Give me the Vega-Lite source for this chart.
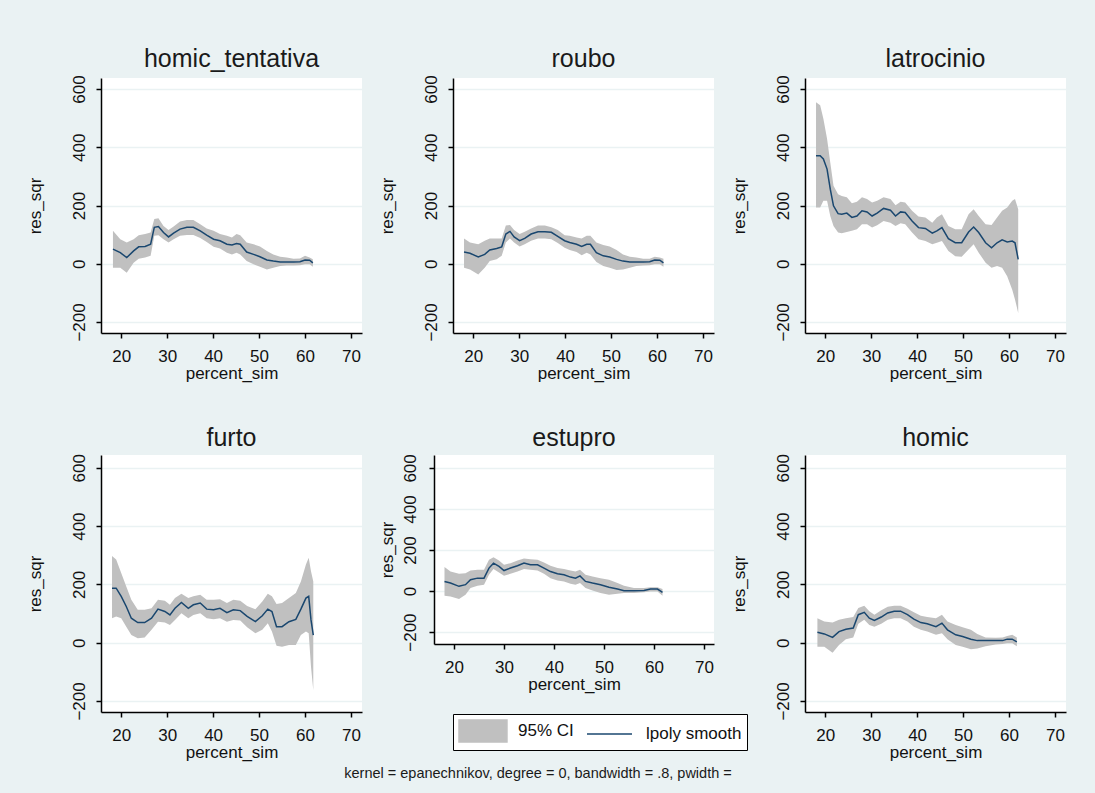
{
 "$schema": "https://vega.github.io/schema/vega-lite/v6.json",
 "background": "#EAF2F3",
 "padding": {"left": 26, "top": 46, "right": 30, "bottom": 15},
 "title": {"text": "kernel = epanechnikov, degree = 0, bandwidth = .8, pwidth = ", "orient": "bottom", "anchor": "middle", "frame": "bounds", "fontSize": 14.5, "offset": 7, "dx": -8},
 "config": {
  "font": "Liberation Sans",
  "view": {"stroke": null, "fill": "white"},
  "title": {"fontSize": 25, "fontWeight": "normal", "color": "#1a1a1a", "offset": 3, "frame": "group", "anchor": "middle"},
  "axis": {"domainColor": "black", "domainWidth": 1.5, "tickColor": "black", "tickWidth": 1.5, "tickSize": 5, "labelFontSize": 17, "titleFontSize": 17, "titleFontWeight": "normal", "labelColor": "#111111", "titleColor": "#111111", "labelOverlap": false},
  "axisX": {"grid": false, "labelPadding": 10, "titlePadding": 1, "labelFlush": false},
  "axisY": {"grid": true, "gridColor": "#EAF2F3", "gridWidth": 1.5, "labelAngle": -90, "labelAlign": "center", "labelBaseline": "bottom", "labelPadding": 8, "titlePadding": 26},
  "legend": {"strokeColor": "black", "fillColor": "white", "padding": 5, "cornerRadius": 0, "labelFontSize": 17, "labelColor": "#111111", "labelOffset": 36, "columnPadding": 10, "symbolSize": 484, "labelLimit": 300, "symbolOpacity": 1, "symbolStrokeWidth": 1.5}
 },
 "datasets": {
  "homic_tentativa": [
   {"x":18.2,"fit":50,"lo":-14,"hi":113},{"x":19.8,"fit":38,"lo":-14,"hi":84},{"x":21.2,"fit":21,"lo":-31,"hi":73},{"x":22.7,"fit":44,"lo":3,"hi":84},{"x":23.8,"fit":58,"lo":17,"hi":98},{"x":25.2,"fit":59,"lo":21,"hi":102},{"x":26.4,"fit":67,"lo":27,"hi":107},{"x":27.2,"fit":125,"lo":96,"hi":154},{"x":28.1,"fit":128,"lo":98,"hi":156},{"x":29.2,"fit":107,"lo":84,"hi":130},{"x":30.3,"fit":92,"lo":73,"hi":116},{"x":31.4,"fit":105,"lo":84,"hi":128},{"x":32.8,"fit":119,"lo":96,"hi":145},{"x":34.3,"fit":125,"lo":99,"hi":150},{"x":35.7,"fit":125,"lo":99,"hi":150},{"x":37.2,"fit":113,"lo":88,"hi":136},{"x":38.6,"fit":98,"lo":75,"hi":121},{"x":40.1,"fit":84,"lo":58,"hi":113},{"x":41.5,"fit":79,"lo":52,"hi":102},{"x":43.0,"fit":67,"lo":38,"hi":96},{"x":44.1,"fit":64,"lo":32,"hi":90},{"x":45.1,"fit":69,"lo":38,"hi":102},{"x":45.9,"fit":67,"lo":32,"hi":98},{"x":47.3,"fit":40,"lo":9,"hi":73},{"x":48.8,"fit":32,"lo":-2,"hi":67},{"x":50.2,"fit":24,"lo":-10,"hi":59},{"x":51.7,"fit":13,"lo":-20,"hi":44},{"x":53.1,"fit":9,"lo":-14,"hi":32},{"x":54.6,"fit":6,"lo":-8,"hi":24},{"x":56.0,"fit":6,"lo":-6,"hi":21},{"x":57.5,"fit":6,"lo":-6,"hi":17},{"x":58.9,"fit":7,"lo":-5,"hi":18},{"x":60.0,"fit":13,"lo":-2,"hi":27},{"x":61.0,"fit":12,"lo":-2,"hi":21},{"x":61.7,"fit":3,"lo":-10,"hi":15}
  ],
  "roubo": [
   {"x":18.0,"fit":40,"lo":-14,"hi":87},{"x":19.3,"fit":36,"lo":-20,"hi":73},{"x":21.1,"fit":23,"lo":-37,"hi":67},{"x":22.5,"fit":32,"lo":-14,"hi":79},{"x":23.6,"fit":47,"lo":9,"hi":87},{"x":25.1,"fit":52,"lo":15,"hi":87},{"x":26.2,"fit":58,"lo":27,"hi":87},{"x":27.1,"fit":102,"lo":73,"hi":131},{"x":28.0,"fit":111,"lo":87,"hi":133},{"x":28.9,"fit":92,"lo":73,"hi":116},{"x":30.1,"fit":79,"lo":59,"hi":102},{"x":31.2,"fit":87,"lo":67,"hi":110},{"x":32.6,"fit":102,"lo":79,"hi":121},{"x":34.1,"fit":110,"lo":87,"hi":131},{"x":35.6,"fit":110,"lo":87,"hi":131},{"x":37.0,"fit":108,"lo":84,"hi":125},{"x":38.4,"fit":94,"lo":71,"hi":116},{"x":39.9,"fit":79,"lo":55,"hi":98},{"x":41.0,"fit":73,"lo":47,"hi":96},{"x":42.5,"fit":67,"lo":40,"hi":90},{"x":43.6,"fit":59,"lo":29,"hi":87},{"x":44.7,"fit":67,"lo":38,"hi":96},{"x":45.5,"fit":67,"lo":32,"hi":96},{"x":46.8,"fit":38,"lo":6,"hi":73},{"x":48.3,"fit":27,"lo":-8,"hi":64},{"x":49.7,"fit":23,"lo":-14,"hi":59},{"x":51.2,"fit":15,"lo":-22,"hi":47},{"x":52.6,"fit":9,"lo":-20,"hi":32},{"x":54.1,"fit":6,"lo":-14,"hi":24},{"x":55.5,"fit":6,"lo":-8,"hi":21},{"x":57.0,"fit":6,"lo":-6,"hi":17},{"x":58.4,"fit":7,"lo":-5,"hi":17},{"x":59.5,"fit":13,"lo":-2,"hi":24},{"x":60.6,"fit":12,"lo":-2,"hi":21},{"x":61.4,"fit":3,"lo":-10,"hi":17}
  ],
  "latrocinio": [
   {"x":18.0,"fit":371,"lo":193,"hi":555},{"x":18.9,"fit":371,"lo":193,"hi":544},{"x":19.6,"fit":360,"lo":216,"hi":498},{"x":20.4,"fit":325,"lo":216,"hi":429},{"x":21.1,"fit":256,"lo":164,"hi":348},{"x":21.8,"fit":199,"lo":130,"hi":268},{"x":22.8,"fit":172,"lo":107,"hi":239},{"x":23.6,"fit":170,"lo":105,"hi":233},{"x":24.7,"fit":174,"lo":109,"hi":228},{"x":25.8,"fit":159,"lo":113,"hi":208},{"x":26.9,"fit":164,"lo":118,"hi":213},{"x":28.0,"fit":182,"lo":136,"hi":228},{"x":29.1,"fit":178,"lo":136,"hi":222},{"x":30.2,"fit":164,"lo":124,"hi":210},{"x":31.3,"fit":174,"lo":132,"hi":216},{"x":32.7,"fit":190,"lo":147,"hi":228},{"x":34.2,"fit":184,"lo":141,"hi":222},{"x":35.3,"fit":164,"lo":130,"hi":201},{"x":36.4,"fit":178,"lo":139,"hi":213},{"x":37.4,"fit":176,"lo":136,"hi":210},{"x":38.9,"fit":147,"lo":107,"hi":182},{"x":40.3,"fit":124,"lo":84,"hi":162},{"x":41.8,"fit":121,"lo":78,"hi":159},{"x":43.3,"fit":105,"lo":67,"hi":141},{"x":44.3,"fit":113,"lo":72,"hi":159},{"x":45.4,"fit":124,"lo":78,"hi":170},{"x":46.8,"fit":86,"lo":44,"hi":130},{"x":48.3,"fit":72,"lo":26,"hi":118},{"x":49.7,"fit":72,"lo":24,"hi":118},{"x":51.2,"fit":109,"lo":49,"hi":170},{"x":52.3,"fit":126,"lo":67,"hi":187},{"x":53.4,"fit":107,"lo":38,"hi":164},{"x":54.9,"fit":72,"lo":3,"hi":136},{"x":56.2,"fit":55,"lo":-14,"hi":133},{"x":57.4,"fit":72,"lo":-8,"hi":159},{"x":58.5,"fit":82,"lo":-14,"hi":182},{"x":59.6,"fit":75,"lo":-43,"hi":193},{"x":60.7,"fit":78,"lo":-89,"hi":216},{"x":61.3,"fit":72,"lo":-123,"hi":222},{"x":62.0,"fit":15,"lo":-169,"hi":187}
  ],
  "furto": [
   {"x":18.0,"fit":187,"lo":84,"hi":297},{"x":18.9,"fit":187,"lo":90,"hi":285},{"x":20.0,"fit":159,"lo":84,"hi":239},{"x":21.1,"fit":124,"lo":55,"hi":193},{"x":22.2,"fit":84,"lo":26,"hi":147},{"x":23.6,"fit":69,"lo":15,"hi":113},{"x":25.1,"fit":69,"lo":18,"hi":113},{"x":26.6,"fit":84,"lo":44,"hi":118},{"x":28.0,"fit":115,"lo":72,"hi":147},{"x":29.5,"fit":107,"lo":69,"hi":144},{"x":30.6,"fit":95,"lo":61,"hi":130},{"x":31.7,"fit":118,"lo":78,"hi":153},{"x":33.1,"fit":138,"lo":101,"hi":168},{"x":34.6,"fit":118,"lo":84,"hi":153},{"x":35.7,"fit":130,"lo":95,"hi":159},{"x":37.2,"fit":136,"lo":101,"hi":164},{"x":38.6,"fit":115,"lo":84,"hi":147},{"x":40.1,"fit":113,"lo":80,"hi":147},{"x":41.5,"fit":118,"lo":84,"hi":149},{"x":43.0,"fit":103,"lo":72,"hi":136},{"x":44.4,"fit":113,"lo":78,"hi":147},{"x":45.9,"fit":110,"lo":76,"hi":144},{"x":47.4,"fit":90,"lo":53,"hi":126},{"x":49.2,"fit":72,"lo":32,"hi":115},{"x":50.7,"fit":92,"lo":44,"hi":141},{"x":51.9,"fit":115,"lo":67,"hi":168},{"x":52.8,"fit":107,"lo":38,"hi":159},{"x":53.8,"fit":55,"lo":-11,"hi":133},{"x":55.0,"fit":55,"lo":-14,"hi":136},{"x":56.5,"fit":72,"lo":-8,"hi":153},{"x":58.0,"fit":80,"lo":-8,"hi":170},{"x":59.1,"fit":115,"lo":26,"hi":210},{"x":60.2,"fit":153,"lo":38,"hi":268},{"x":60.8,"fit":159,"lo":32,"hi":291},{"x":61.3,"fit":78,"lo":-83,"hi":245},{"x":61.8,"fit":26,"lo":-163,"hi":210}
  ],
  "estupro": [
   {"x":18.1,"fit":47,"lo":-23,"hi":117},{"x":19.3,"fit":39,"lo":-26,"hi":95},{"x":21.0,"fit":23,"lo":-39,"hi":84},{"x":22.3,"fit":31,"lo":-18,"hi":87},{"x":23.3,"fit":55,"lo":15,"hi":100},{"x":24.7,"fit":63,"lo":26,"hi":104},{"x":26.0,"fit":63,"lo":31,"hi":104},{"x":27.0,"fit":112,"lo":79,"hi":152},{"x":27.9,"fit":136,"lo":107,"hi":165},{"x":29.0,"fit":120,"lo":91,"hi":149},{"x":30.0,"fit":100,"lo":74,"hi":128},{"x":31.3,"fit":112,"lo":84,"hi":136},{"x":32.7,"fit":123,"lo":95,"hi":149},{"x":34.0,"fit":136,"lo":107,"hi":159},{"x":35.3,"fit":128,"lo":104,"hi":155},{"x":36.7,"fit":128,"lo":100,"hi":152},{"x":38.0,"fit":112,"lo":84,"hi":139},{"x":39.3,"fit":95,"lo":63,"hi":123},{"x":40.7,"fit":84,"lo":52,"hi":112},{"x":42.0,"fit":79,"lo":47,"hi":107},{"x":43.3,"fit":68,"lo":36,"hi":100},{"x":44.3,"fit":63,"lo":31,"hi":95},{"x":45.2,"fit":74,"lo":39,"hi":104},{"x":46.3,"fit":47,"lo":15,"hi":79},{"x":47.7,"fit":39,"lo":3,"hi":71},{"x":49.3,"fit":31,"lo":-10,"hi":63},{"x":51.0,"fit":19,"lo":-18,"hi":55},{"x":52.7,"fit":10,"lo":-13,"hi":39},{"x":54.0,"fit":2,"lo":-10,"hi":26},{"x":56.0,"fit":2,"lo":-10,"hi":15},{"x":58.0,"fit":3,"lo":-6,"hi":15},{"x":59.3,"fit":10,"lo":-2,"hi":19},{"x":60.7,"fit":10,"lo":-2,"hi":19},{"x":61.7,"fit":-6,"lo":-23,"hi":10}
  ],
  "homic": [
   {"x":18.3,"fit":36,"lo":-14,"hi":84},{"x":19.8,"fit":30,"lo":-14,"hi":73},{"x":21.6,"fit":18,"lo":-35,"hi":69},{"x":23.0,"fit":38,"lo":-8,"hi":79},{"x":24.5,"fit":46,"lo":12,"hi":84},{"x":26.1,"fit":50,"lo":18,"hi":88},{"x":27.2,"fit":96,"lo":65,"hi":119},{"x":28.5,"fit":104,"lo":79,"hi":127},{"x":29.6,"fit":84,"lo":61,"hi":108},{"x":30.7,"fit":76,"lo":55,"hi":96},{"x":32.2,"fit":88,"lo":65,"hi":111},{"x":33.6,"fit":102,"lo":79,"hi":123},{"x":35.0,"fit":108,"lo":84,"hi":127},{"x":36.4,"fit":108,"lo":84,"hi":127},{"x":37.9,"fit":96,"lo":73,"hi":116},{"x":39.3,"fit":81,"lo":55,"hi":104},{"x":40.8,"fit":69,"lo":44,"hi":92},{"x":42.2,"fit":65,"lo":38,"hi":88},{"x":44.1,"fit":55,"lo":27,"hi":84},{"x":45.4,"fit":67,"lo":32,"hi":96},{"x":46.6,"fit":44,"lo":12,"hi":73},{"x":48.4,"fit":27,"lo":-8,"hi":61},{"x":49.9,"fit":21,"lo":-14,"hi":53},{"x":51.7,"fit":12,"lo":-23,"hi":44},{"x":53.1,"fit":7,"lo":-20,"hi":30},{"x":54.9,"fit":7,"lo":-12,"hi":18},{"x":57.1,"fit":7,"lo":-6,"hi":17},{"x":58.6,"fit":7,"lo":-5,"hi":18},{"x":59.6,"fit":12,"lo":-2,"hi":23},{"x":60.7,"fit":12,"lo":-2,"hi":27},{"x":61.7,"fit":3,"lo":-12,"hi":18}
  ]
 },
 "spacing": 44,
 "bounds": "full",
 "resolve": {"scale": {"x": "independent", "y": "independent", "color": "shared"}, "legend": {"color": "shared"}},
 "vconcat": [
  {"spacing": 16, "bounds": "full",
   "resolve": {"scale": {"x": "independent", "y": "independent", "color": "shared"}, "legend": {"color": "shared"}},
   "hconcat": [
  {"width": 261, "height": 255, "title": "homic_tentativa", "data": {"name": "homic_tentativa"},
   "layer": [
    {"mark": {"type": "area", "opacity": 1}, "encoding": {
      "x": {"field": "x", "type": "quantitative", "title": "percent_sim", "scale": {"domain": [15.6, 72.4], "nice": false, "zero": false}, "axis": {"values": [20,30,40,50,60,70]}},
      "y": {"field": "lo", "type": "quantitative", "title": "res_sqr", "scale": {"domain": [-238, 638], "nice": false, "zero": false}, "axis": {"values": [-200,0,200,400,600]}},
      "y2": {"field": "hi"},
      "color": {"datum": "95% CI", "scale": {"domain": ["95% CI", "lpoly smooth"], "range": ["#C0C0C0", "#1A476F"]}, "legend": {"title": null, "orient": "none", "legendX": 352, "legendY": 636, "direction": "horizontal", "symbolType": {"expr": "datum.value === '95% CI' ? 'M-1,-1H3.36V1H-1Z' : 'M-1,0H3.09'"}}}}},
    {"mark": {"type": "line", "strokeWidth": 1.5}, "encoding": {
      "x": {"field": "x", "type": "quantitative", "title": "percent_sim"},
      "y": {"field": "fit", "type": "quantitative", "title": "res_sqr"},
      "color": {"datum": "lpoly smooth"}}}
   ]},
  {"width": 261, "height": 255, "title": "roubo", "data": {"name": "roubo"},
   "layer": [
    {"mark": {"type": "area", "opacity": 1}, "encoding": {
      "x": {"field": "x", "type": "quantitative", "title": "percent_sim", "scale": {"domain": [15.6, 72.4], "nice": false, "zero": false}, "axis": {"values": [20,30,40,50,60,70]}},
      "y": {"field": "lo", "type": "quantitative", "title": "res_sqr", "scale": {"domain": [-238, 638], "nice": false, "zero": false}, "axis": {"values": [-200,0,200,400,600]}},
      "y2": {"field": "hi"},
      "color": {"datum": "95% CI"}}},
    {"mark": {"type": "line", "strokeWidth": 1.5}, "encoding": {
      "x": {"field": "x", "type": "quantitative", "title": "percent_sim"},
      "y": {"field": "fit", "type": "quantitative", "title": "res_sqr"},
      "color": {"datum": "lpoly smooth"}}}
   ]},
  {"width": 261, "height": 255, "title": "latrocinio", "data": {"name": "latrocinio"},
   "layer": [
    {"mark": {"type": "area", "opacity": 1}, "encoding": {
      "x": {"field": "x", "type": "quantitative", "title": "percent_sim", "scale": {"domain": [15.6, 72.4], "nice": false, "zero": false}, "axis": {"values": [20,30,40,50,60,70]}},
      "y": {"field": "lo", "type": "quantitative", "title": "res_sqr", "scale": {"domain": [-238, 638], "nice": false, "zero": false}, "axis": {"values": [-200,0,200,400,600]}},
      "y2": {"field": "hi"},
      "color": {"datum": "95% CI"}}},
    {"mark": {"type": "line", "strokeWidth": 1.5}, "encoding": {
      "x": {"field": "x", "type": "quantitative", "title": "percent_sim"},
      "y": {"field": "fit", "type": "quantitative", "title": "res_sqr"},
      "color": {"datum": "lpoly smooth"}}}
   ]}
   ]},
  {"spacing": 16, "bounds": "full",
   "resolve": {"scale": {"x": "independent", "y": "independent", "color": "shared"}, "legend": {"color": "shared"}},
   "hconcat": [
  {"width": 261, "height": 257, "title": "furto", "data": {"name": "furto"},
   "layer": [
    {"mark": {"type": "area", "opacity": 1}, "encoding": {
      "x": {"field": "x", "type": "quantitative", "title": "percent_sim", "scale": {"domain": [15.6, 72.4], "nice": false, "zero": false}, "axis": {"values": [20,30,40,50,60,70]}},
      "y": {"field": "lo", "type": "quantitative", "title": "res_sqr", "scale": {"domain": [-238, 644], "nice": false, "zero": false}, "axis": {"values": [-200,0,200,400,600]}},
      "y2": {"field": "hi"},
      "color": {"datum": "95% CI"}}},
    {"mark": {"type": "line", "strokeWidth": 1.5}, "encoding": {
      "x": {"field": "x", "type": "quantitative", "title": "percent_sim"},
      "y": {"field": "fit", "type": "quantitative", "title": "res_sqr"},
      "color": {"datum": "lpoly smooth"}}}
   ]},
  {"width": 280, "height": 189, "title": "estupro", "data": {"name": "estupro"},
   "layer": [
    {"mark": {"type": "area", "opacity": 1}, "encoding": {
      "x": {"field": "x", "type": "quantitative", "title": "percent_sim", "scale": {"domain": [16, 72], "nice": false, "zero": false}, "axis": {"values": [20,30,40,50,60,70]}},
      "y": {"field": "lo", "type": "quantitative", "title": "res_sqr", "scale": {"domain": [-258, 663], "nice": false, "zero": false}, "axis": {"values": [-200,0,200,400,600], "labelPadding": 10, "titlePadding": 5}},
      "y2": {"field": "hi"},
      "color": {"datum": "95% CI"}}},
    {"mark": {"type": "line", "strokeWidth": 1.5}, "encoding": {
      "x": {"field": "x", "type": "quantitative", "title": "percent_sim"},
      "y": {"field": "fit", "type": "quantitative", "title": "res_sqr"},
      "color": {"datum": "lpoly smooth"}}}
   ]},
  {"width": 261, "height": 257, "title": "homic", "data": {"name": "homic"},
   "layer": [
    {"mark": {"type": "area", "opacity": 1}, "encoding": {
      "x": {"field": "x", "type": "quantitative", "title": "percent_sim", "scale": {"domain": [15.6, 72.4], "nice": false, "zero": false}, "axis": {"values": [20,30,40,50,60,70]}},
      "y": {"field": "lo", "type": "quantitative", "title": "res_sqr", "scale": {"domain": [-238, 644], "nice": false, "zero": false}, "axis": {"values": [-200,0,200,400,600]}},
      "y2": {"field": "hi"},
      "color": {"datum": "95% CI"}}},
    {"mark": {"type": "line", "strokeWidth": 1.5}, "encoding": {
      "x": {"field": "x", "type": "quantitative", "title": "percent_sim"},
      "y": {"field": "fit", "type": "quantitative", "title": "res_sqr"},
      "color": {"datum": "lpoly smooth"}}}
   ]}
   ]}
 ]
}
